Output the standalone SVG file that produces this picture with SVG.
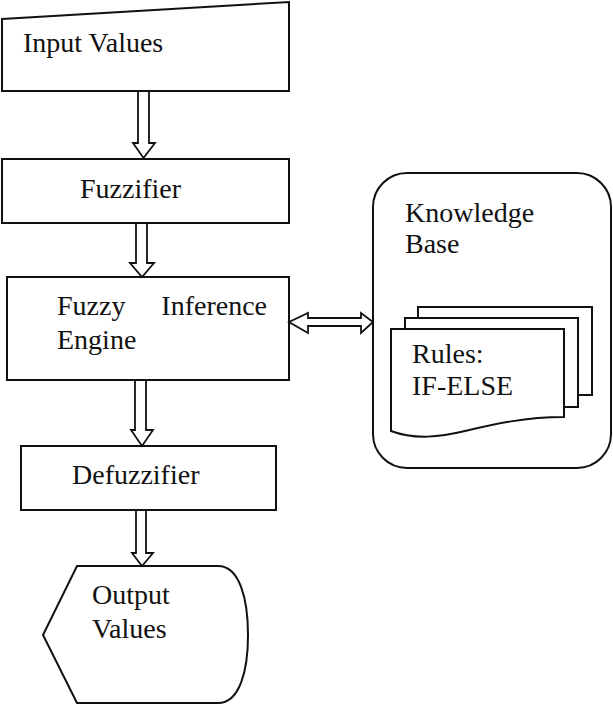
<svg xmlns="http://www.w3.org/2000/svg" width="613" height="704" viewBox="0 0 613 704">
<style>
.s{fill:#fff;stroke:#111;stroke-width:2;stroke-linejoin:miter}
.a{fill:#fff;stroke:#111;stroke-width:1.8;stroke-linejoin:miter}
.t{font-family:'Liberation Serif','Times New Roman',serif;font-size:28px;fill:#111}
</style>
<rect width="613" height="704" fill="#fff"/>
<g id="input">
<polygon class="s" points="2,19 289,2 289,91 2,91"/>
<text class="t" x="23" y="52">Input Values</text>
</g>
<g id="fuzzifier">
<rect class="s" x="2" y="159" width="287" height="64"/>
<text class="t" x="80" y="198">Fuzzifier</text>
</g>
<g id="inference">
<rect class="s" x="7" y="277" width="282" height="103"/>
<text class="t" x="57" y="315">Fuzzy</text>
<text class="t" x="267" y="315" text-anchor="end">Inference</text>
<text class="t" x="57" y="349">Engine</text>
</g>
<g id="knowledge">
<rect class="s" x="373" y="173" width="238" height="295" rx="34" ry="34"/>
<text class="t" x="405" y="222">Knowledge</text>
<text class="t" x="405" y="253">Base</text>
<rect class="s" x="418" y="307" width="174" height="88"/>
<rect class="s" x="405" y="318" width="173" height="89"/>
<path class="s" d="M391,329 H564 V417 C525,417 495,424 465,431 C440,437 415,440 391,431 Z"/>
<text class="t" x="412" y="363">Rules:</text>
<text class="t" x="412" y="395">IF-ELSE</text>
</g>
<g id="defuzzifier">
<rect class="s" x="21" y="446" width="255" height="64"/>
<text class="t" x="72" y="484">Defuzzifier</text>
</g>
<g id="output">
<path class="s" d="M77,566 H218 C240,566 248,600 248,635 C248,670 240,703 218,703 H77 L43,635 Z"/>
<text class="t" x="92" y="604">Output</text>
<text class="t" x="92" y="638">Values</text>
</g>
<g id="connectors">
<polygon class="a" points="138,91 149,91 149,143 155,143 143.5,158 133,143 138,143"/>
<polygon class="a" points="136,223 147,223 147,263 154,263 142,277 130,263 136,263"/>
<polygon class="a" points="135,380 146,380 146,430 153,430 142,446 131,430 135,430"/>
<polygon class="a" points="136,510 146,510 146,553 153,553 142,566 132,553 136,553"/>
<polygon class="a" points="289,322 308,313 308,318 361,318 361,313 373,322 361,333 361,326 308,326 308,333"/>
</g>
</svg>
